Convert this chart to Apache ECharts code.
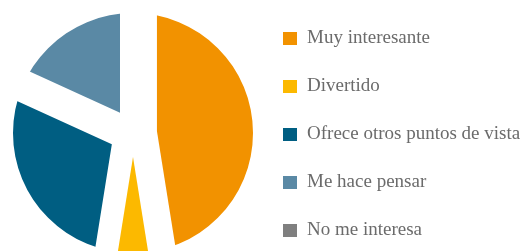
<!DOCTYPE html>
<html>
<head>
<meta charset="utf-8">
<script src="https://cdn.jsdelivr.net/npm/echarts@6/dist/echarts.min.js"></script>
<style>
  html, body { margin: 0; padding: 0; background: #fff; }
  #chart { width: 528px; height: 251px; }
</style>
</head>
<body>
<div id="chart"></div>
<script>
// answers and share (%)
var categories = ['Muy interesante', 'Divertido', 'Ofrece otros puntos de vista', 'Me hace pensar', 'No me interesa'];
var values = [47, 5, 29, 18, 0];
var colors = ['#F29200', '#FCB900', '#005E82', '#5A89A5', '#7F7F7F'];

var myChart = echarts.init(document.getElementById('chart'));

// slices pulled out, then cut back to the original circle by a white ring
var pieData = categories.map(function (name, i) {
    return { name: name, value: values[i], selected: values[i] > 0, itemStyle: { color: colors[i] } };
});

var option = {
    animation: false,
    legend: {
        orient: 'vertical',
        left: 278,
        top: 24,
        itemWidth: 14,
        itemHeight: 13,
        itemGap: 29,
        icon: 'rect',
        selectedMode: false,
        data: categories,
        textStyle: {
            fontFamily: 'Liberation Serif',
            fontSize: 19,
            lineHeight: 19,
            color: '#6b6b6b',
            padding: [0, 0, 0, 5]
        }
    },
    series: [{
        type: 'pie',
        center: [133, 133],
        radius: 124,
        startAngle: 90,
        selectedMode: 'multiple',
        selectedOffset: 24,
        label: { show: false },
        labelLine: { show: false },
        emphasis: { disabled: true },
        itemStyle: { borderWidth: 0 },
        data: pieData
    }, {
        // white ring that trims the pulled slices back to radius 120
        type: 'pie',
        center: [133, 133],
        radius: [120, 150],
        silent: true,
        label: { show: false },
        labelLine: { show: false },
        emphasis: { disabled: true },
        itemStyle: { color: '#ffffff', borderWidth: 0 },
        data: [{ name: 'ring', value: 1 }]
    }]
};

myChart.setOption(option);
</script>
</body>
</html>
